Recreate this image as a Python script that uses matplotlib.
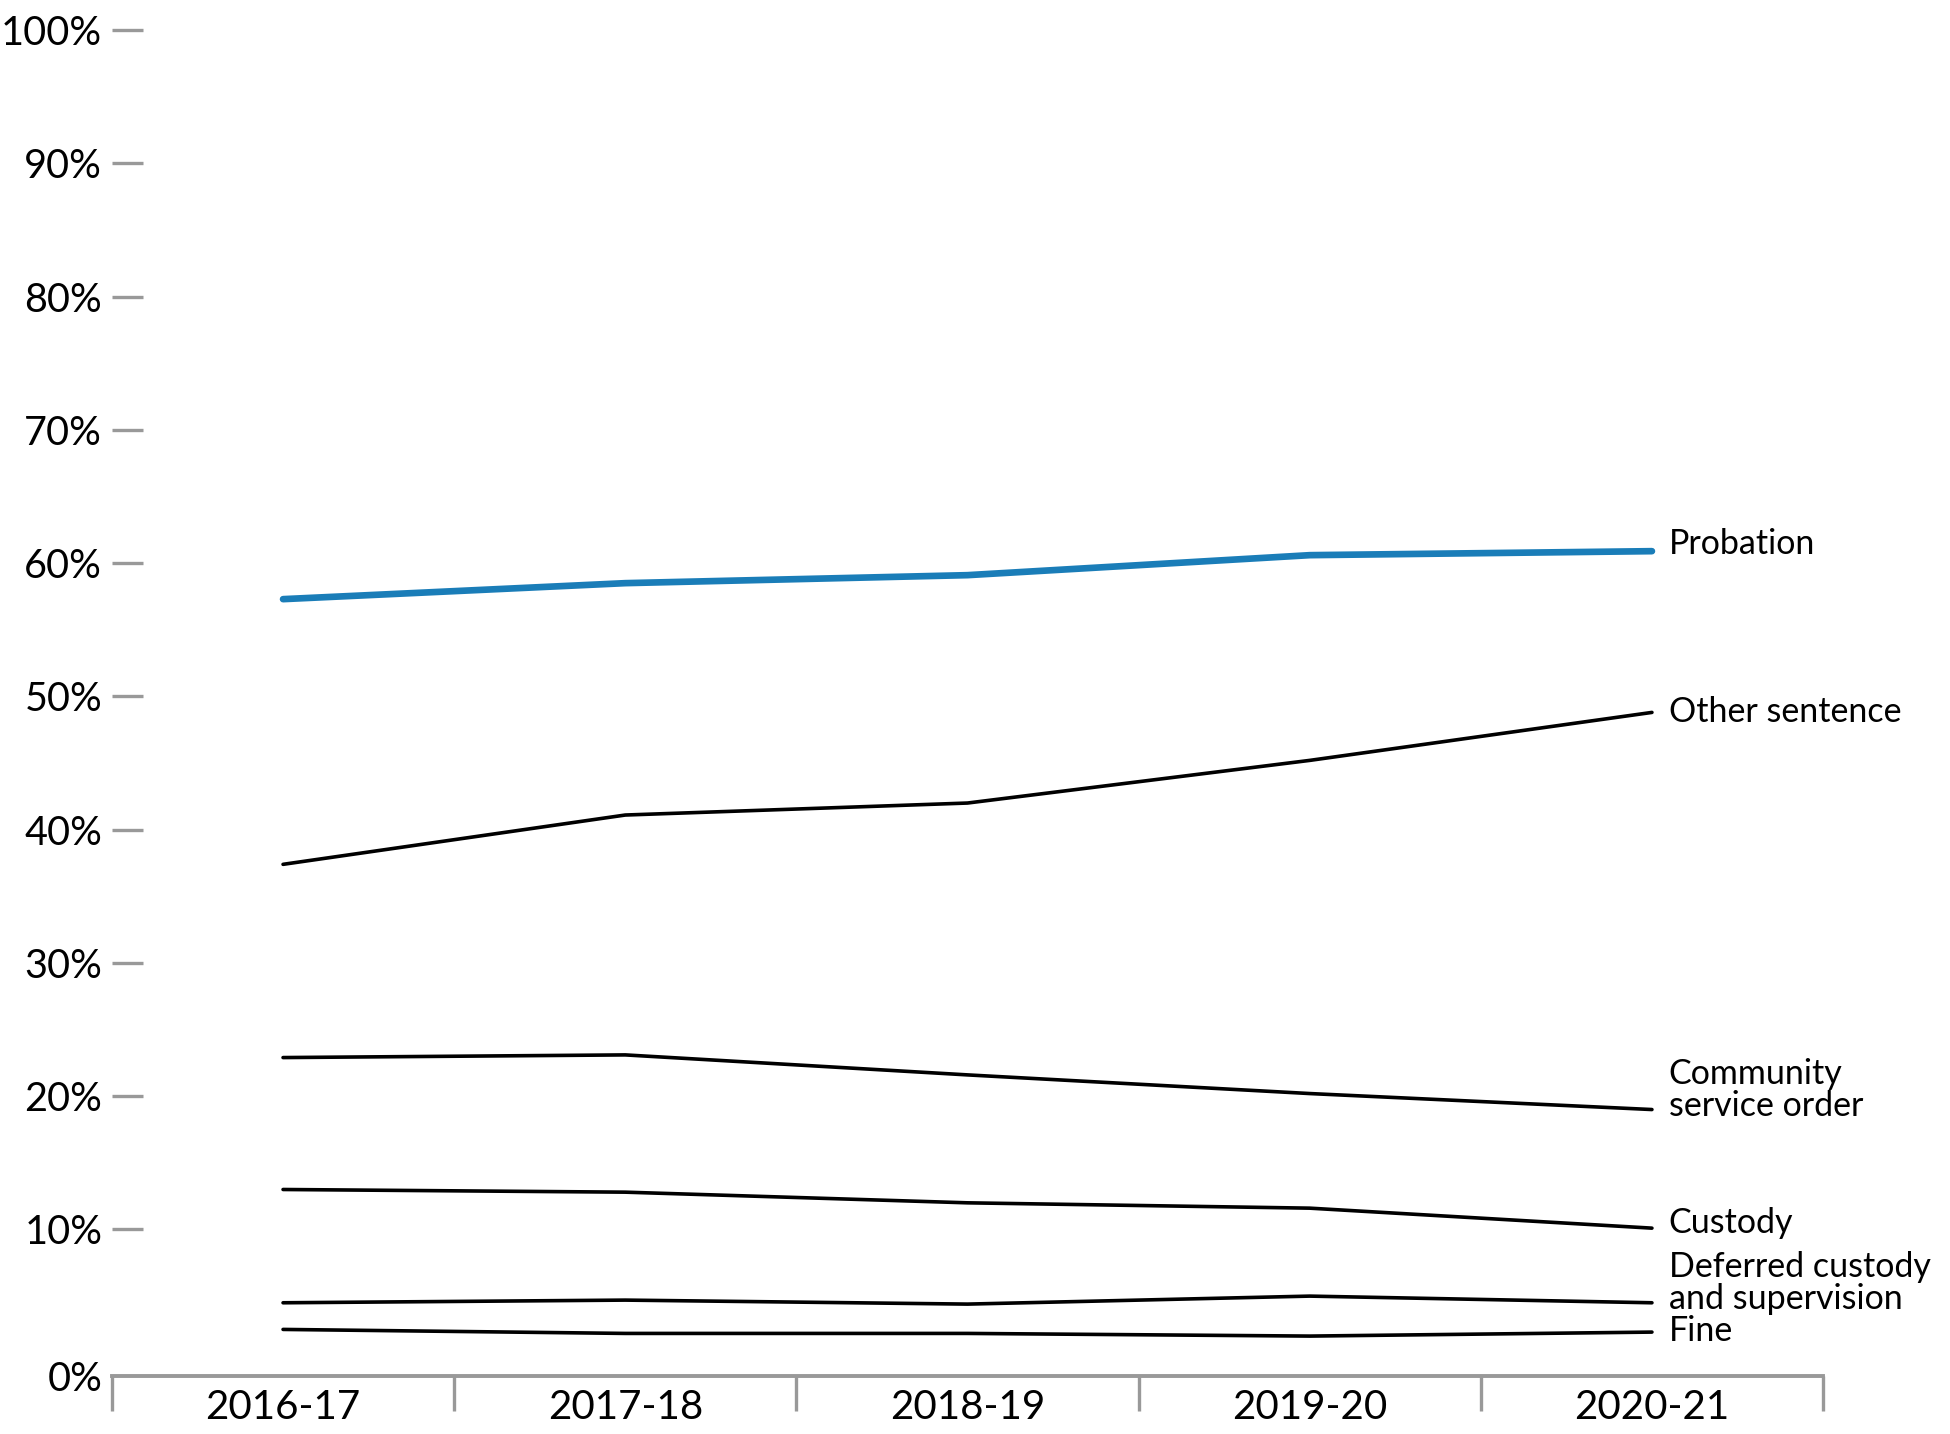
import matplotlib
matplotlib.use('Agg')
import matplotlib.pyplot as plt

plt.rcParams['font.family'] = ['Lato', 'DejaVu Sans']

# data (percent of sentences)
years = ['2016-17', '2017-18', '2018-19', '2019-20', '2020-21']
probation = [57.3, 58.5, 59.1, 60.6, 60.9]
other_sentence = [37.4, 41.1, 42.0, 45.2, 48.8]
community_service = [22.9, 23.1, 21.6, 20.2, 19.0]
custody = [13.0, 12.8, 12.0, 11.6, 10.1]
deferred_custody = [4.5, 4.7, 4.4, 5.0, 4.5]
fine = [2.5, 2.2, 2.2, 2.0, 2.3]

series = [
    ('Probation', probation, '#1a7db8', 4.8, 7),
    ('Other sentence', other_sentence, 'black', 2.6, 0),
    ('Community\nservice order', community_service, 'black', 2.6, 20),
    ('Custody', custody, 'black', 2.6, 5),
    ('Deferred custody\nand supervision', deferred_custody, 'black', 2.6, 20),
    ('Fine', fine, 'black', 2.6, 1),
]

fig = plt.figure(figsize=(19.5, 14.34), dpi=100)
ax = fig.add_axes([0.0574, 0.0404, 0.8775, 0.9386])

x = list(range(len(years)))
for name, vals, col, lw, dy in series:
    ax.plot(x, vals, color=col, lw=lw, solid_capstyle='round', zorder=3)
    ax.annotate(name, xy=(x[-1], vals[-1]), xytext=(12, dy * 0.72),
                textcoords='offset points', va='center', ha='left',
                fontsize=24.5, linespacing=1.0, annotation_clip=False)

ax.set_xlim(-0.5, 4.5)
ax.set_ylim(-1.0, 100)

grey = '#999999'
for s in ['top', 'right', 'left']:
    ax.spines[s].set_visible(False)
ax.spines['bottom'].set_color(grey)
ax.spines['bottom'].set_linewidth(2.8)

ax.set_xticks(x)
ax.set_xticklabels(years, fontsize=29)
ax.tick_params(axis='x', length=0, pad=9)
ax.set_xticks([i - 0.5 for i in range(len(years) + 1)], minor=True)
ax.tick_params(axis='x', which='minor', length=25, width=2.4, color=grey, direction='out')

yt = [-1.0] + list(range(10, 101, 10))
ax.set_yticks(yt)
ax.set_yticklabels(['0%'] + [f'{v}%' for v in range(10, 101, 10)], fontsize=28.5)
ax.tick_params(axis='y', direction='in', length=22, width=2.4, color=grey, pad=7)
ax.yaxis.get_major_ticks()[0].tick1line.set_visible(False)

fig.savefig('out.png', dpi=100)
